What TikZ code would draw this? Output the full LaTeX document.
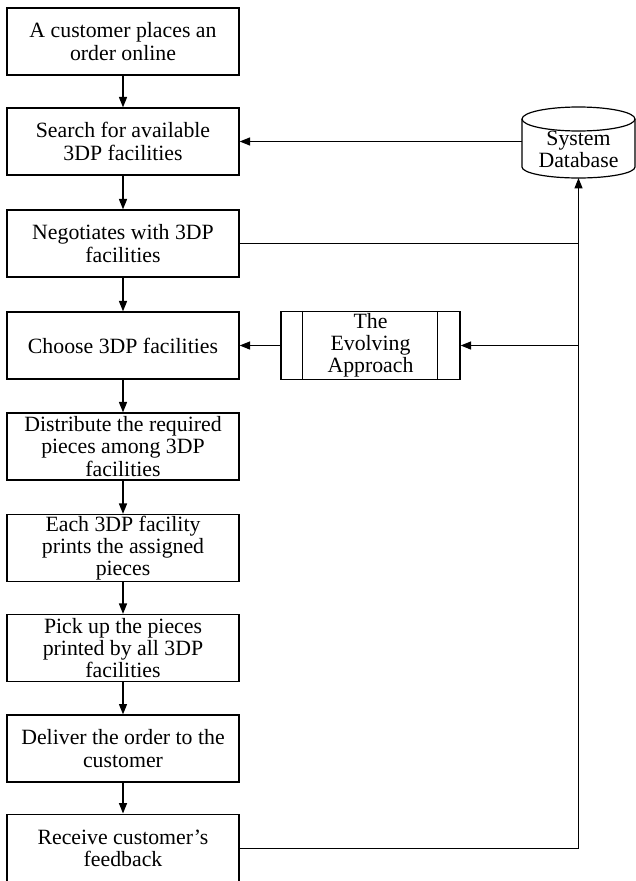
\documentclass[tikz,border=0pt]{standalone}
\usepackage{fontspec}
\setmainfont{Liberation Serif}
\usetikzlibrary{arrows.meta}

\begin{document}
\begin{tikzpicture}[x=0.025cm, y=-0.025cm,
    stepbox/.style={draw, line width=0.85pt, minimum width=5.8cm, minimum height=1.675cm, align=center, inner sep=0pt, font=\fontsize{15.5}{15.8}\selectfont},
    flow/.style={-{Triangle[length=2.6mm,width=2mm]}, line width=0.85pt},
    link/.style={line width=0.85pt}]
            \useasboundingbox (0,0) rectangle (636,881);
            \node [stepbox] (order) at (123,41.5) {A customer places an\\order online};
            \node [stepbox] (search) at (123,141.5) {Search for available\\3DP facilities};
            \node [stepbox] (nego) at (123,243.5) {Negotiates with 3DP\\facilities};
            \node [stepbox] (choose) at (123,345.5) {Choose 3DP facilities};
            \node [stepbox] (distr) at (123,446.5) {Distribute the required\\pieces among 3DP\\facilities};
            \node [stepbox] (print) at (123,548) {Each 3DP facility\\prints the assigned\\pieces};
            \node [stepbox] (pick) at (123,648) {Pick up the pieces\\printed by all 3DP\\facilities};
            \node [stepbox] (deliver) at (123,748.5) {Deliver the order to the\\customer};
            \node [stepbox, minimum height=1.72cm] (feedback) at (123,848.5) {Receive customer's\\feedback};
            % database
            \draw [link] (578.5,119) ellipse [x radius=56.5, y radius=12];
            \draw [link] (522,119) -- (522,167) arc [start angle=180, end angle=0, x radius=56.5, y radius=11] -- (635,119);
            \node [align=center, inner sep=0pt, font=\fontsize{15.5}{15.8}\selectfont] (db) at (578.5,149) {System\\Database};
            \coordinate (dbbot) at (578.5,178);
            \coordinate (dbside) at (522,141.5);
            % evolving approach
            \node [draw, link, minimum width=4.475cm, minimum height=1.7cm, align=center, inner sep=0pt, font=\fontsize{15.5}{15.8}\selectfont] (evo) at (370.5,345.5) {The\\Evolving\\Approach};
            \draw [link] ([xshift=0.55cm]evo.north west) -- ([xshift=0.55cm]evo.south west);
            \draw [link] ([xshift=-0.575cm]evo.north east) -- ([xshift=-0.575cm]evo.south east);
            % main flow
            \draw [flow] (order.south) -- (search.north);
            \draw [flow] (search.south) -- (nego.north);
            \draw [flow] (nego.south) -- (choose.north);
            \draw [flow] (choose.south) -- (distr.north);
            \draw [flow] (distr.south) -- (print.north);
            \draw [flow] (print.south) -- (pick.north);
            \draw [flow] (pick.south) -- (deliver.north);
            \draw [flow] (deliver.south) -- (feedback.north);
            % feedback loop
            \draw [flow] (dbside) -- (search.east);
            \draw [link] (nego.east) -- (nego.east -| dbbot);
            \draw [flow] (feedback.east) -| (dbbot);
            \draw [flow] (evo.east -| dbbot) -- (evo.east);
            \draw [flow] (evo.west) -- (choose.east);
        \end{tikzpicture}
\end{document}
